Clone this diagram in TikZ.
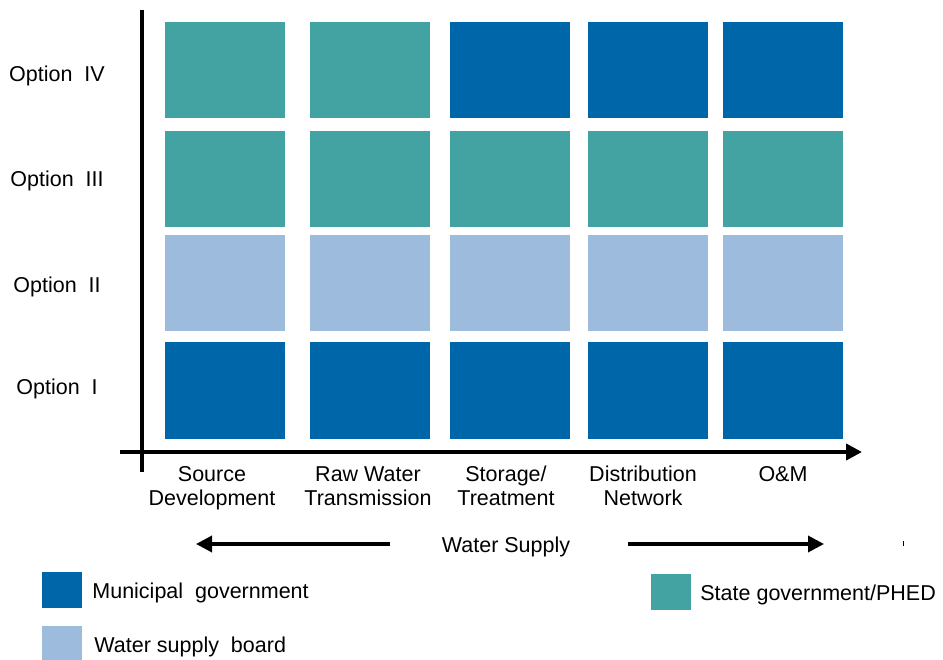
\documentclass[tikz,border=0pt]{standalone}
\usepackage{fontspec}
\setmainfont{Liberation Sans}
\usetikzlibrary{positioning,arrows.meta}
\definecolor{municipal}{RGB}{0,102,170}
\definecolor{stategov}{RGB}{67,162,162}
\definecolor{board}{RGB}{157,188,221}
\tikzstyle{axis line}=[-{Triangle[length=16pt,width=16pt]},line width=4pt]
\tikzstyle{cell}=[minimum width=120pt,minimum height=96pt,inner sep=0pt]
\tikzstyle{key}=[minimum width=40pt,minimum height=36pt,inner sep=0pt]
\tikzstyle{label}=[font=\fontsize{21.5}{24.5}\selectfont,inner sep=0pt,align=center]
\newcommand{\cellnode}[4]{
  \node [cell, fill=#4] (#1) at (#2,#3) {}
}
\newcommand{\optionnode}[3]{
  \node [label] (#1) at (57,#2) {#3}
}

\begin{document}
\begin{tikzpicture}[x=1pt,y=-1pt]
        \useasboundingbox (0,0) rectangle (943,660);

        % axes
        \coordinate (ytop) at (142,10);
        \coordinate (ybot) at (142,472);
        \coordinate (xleft) at (120,452);
        \coordinate (xright) at (862,452);
        \draw[line width=4pt] (ybot) -- (ytop);
        \draw[axis line] (xleft) -- (xright);

        % option IV
        \cellnode{a4}{225}{70}{stategov};
        \cellnode{b4}{369.5}{70}{stategov};
        \cellnode{c4}{510}{70}{municipal};
        \cellnode{d4}{647.5}{70}{municipal};
        \cellnode{e4}{783}{70}{municipal};
        % option III
        \cellnode{a3}{225}{179}{stategov};
        \cellnode{b3}{369.5}{179}{stategov};
        \cellnode{c3}{510}{179}{stategov};
        \cellnode{d3}{647.5}{179}{stategov};
        \cellnode{e3}{783}{179}{stategov};
        % option II
        \cellnode{a2}{225}{283.5}{board};
        \cellnode{b2}{369.5}{283.5}{board};
        \cellnode{c2}{510}{283.5}{board};
        \cellnode{d2}{647.5}{283.5}{board};
        \cellnode{e2}{783}{283.5}{board};
        % option I
        \cellnode{a1}{225}{390.5}{municipal};
        \cellnode{b1}{369.5}{390.5}{municipal};
        \cellnode{c1}{510}{390.5}{municipal};
        \cellnode{d1}{647.5}{390.5}{municipal};
        \cellnode{e1}{783}{390.5}{municipal};

        \optionnode{opt4}{76}{Option\ \ IV};
        \optionnode{opt3}{181}{Option\ \ III};
        \optionnode{opt2}{287}{Option\ \ II};
        \optionnode{opt1}{389}{Option\ \ I};

        % stages along the x axis
        \node [label, anchor=north] (src) at (212,464) {\strut Source\\Development};
        \node [label, anchor=north] (raw) at (368,464) {\strut Raw Water\\Transmission};
        \node [label, anchor=north] (stor) at (506,464) {\strut Storage/\\Treatment};
        \node [label, anchor=north] (dist) at (643,464) {\strut Distribution\\Network};
        \node [label, anchor=north] (om) at (783,464) {\strut O\&M};

        \node [label] (ws) at (506,547) {Water Supply};
        \coordinate (wsl) at (390,544);
        \coordinate (wsl end) at (196,544);
        \coordinate (wsr) at (628,544);
        \coordinate (wsr end) at (824,544);
        \draw[axis line, line width=3.5pt] (wsl) -- (wsl end);
        \draw[axis line, line width=3.5pt] (wsr) -- (wsr end);
        \coordinate (tick) at (903,541);
        \draw[line width=1pt] (tick) -- ++(0,5);

        % legend
        \node [key, fill=municipal] (kmun) at (62,590) {};
        \node [label, right=10pt of kmun, yshift=-3pt] {Municipal\ \ government};
        \node [key, fill=board] (kbrd) at (62,644) {};
        \node [label, right=12pt of kbrd, yshift=-3pt] {Water supply\ \ board};
        \node [key, fill=stategov] (kst) at (671,592) {};
        \node [label, right=9pt of kst, yshift=-3pt] {State government/PHED};

      \end{tikzpicture}
\end{document}
